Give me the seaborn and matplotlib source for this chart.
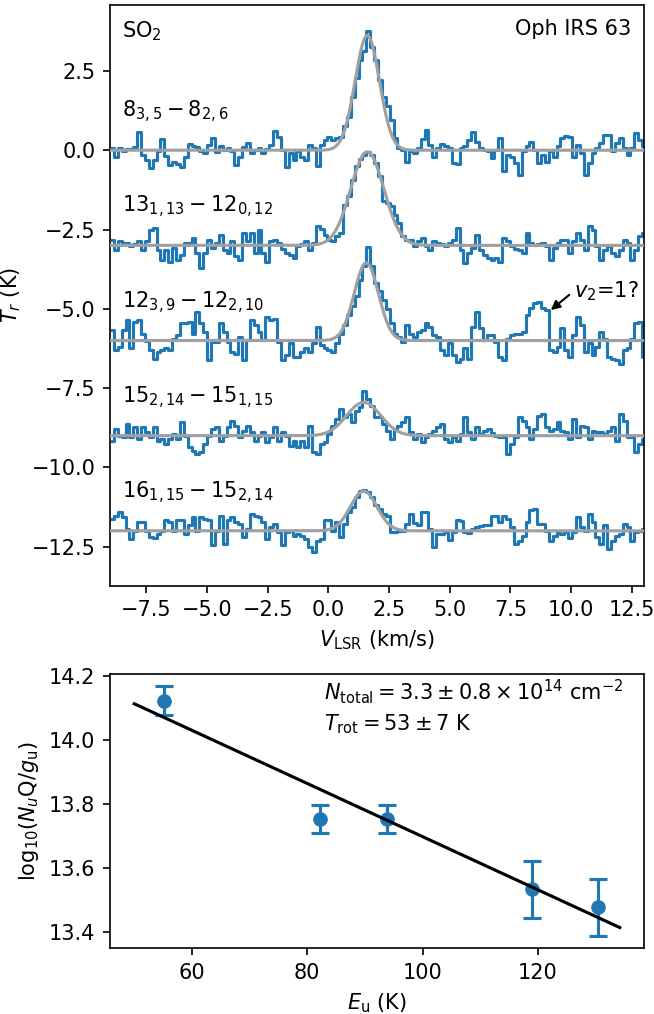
import numpy as np
import pandas as pd
import matplotlib
matplotlib.use("Agg")
import matplotlib.pyplot as plt
import seaborn as sns

# ---------------- data: spectra (channel grid) ----------------
v_start = -9.0
dv = 0.16

spec_a = [0.06, -0.20, 0.08, -0.01, 0.03, 0.03, 0.09, 0.56, -0.15, -0.31,
          -0.57, -0.31, -0.04, 0.35, -0.18, -0.46, -0.36, -0.43, -0.54, -0.20,
          0.20, 0.12, 0.09, -0.04, -0.09, 0.17, 0.40, -0.07, 0.12, 0.01,
          0.06, -0.04, -0.46, -0.20, 0.09, 0.22, -0.09, 0.01, 0.08, -0.09,
          0.03, 0.15, 0.62, 0.41, 0.01, -0.52, -0.09, -0.31, -0.01, -0.20,
          -0.31, 0.15, 0.06, -0.49, 0.17, 0.33, 0.41, 0.33, 0.38, 0.43,
          0.75, 1.06, 1.69, 2.27, 2.85, 3.12, 3.75, 3.27, 2.85, 2.20,
          1.67, 1.40, 0.96, 0.38, 0.06, 0.01, -0.36, -0.04, -0.09, 0.06,
          0.35, 0.64, 0.17, -0.20, 0.06, 0.20, 0.12, 0.06, -0.41, -0.43,
          0.06, 0.12, 0.33, 0.59, 0.27, 0.06, 0.01, -0.04, -0.25, 0.01,
          0.38, -0.64, -0.15, -0.20, -0.41, -0.78, -0.04, 0.14, 0.27, 0.01,
          -0.41, -0.15, -0.36, -0.04, -0.20, 0.12, 0.38, 0.45, 0.43, -0.20,
          0.17, -0.09, -0.78, -0.41, -0.09, 0.06, 0.22, 0.48, 0.48, -0.04,
          0.22, 0.38, 0.06, -0.15, 0.06, 0.54, 0.33, 0.12]

spec_b = [0.18, -0.14, 0.13, 0.07, 0.07, -0.03, 0.05, 0.13, -0.14, 0.13,
          0.49, 0.55, -0.14, -0.45, -0.14, -0.51, -0.08, -0.45, -0.29, 0.09,
          0.09, 0.23, -0.24, -0.72, -0.24, 0.18, -0.08, 0.09, 0.34, -0.14,
          -0.24, 0.13, -0.35, -0.45, 0.39, 0.13, 0.39, -0.24, 0.49, -0.24,
          -0.51, 0.13, 0.18, 0.07, -0.12, -0.24, -0.29, -0.40, -0.03, 0.05,
          0.13, -0.14, 0.09, 0.60, 0.52, 0.34, 0.18, 0.15, 0.28, 0.39,
          1.28, 1.55, 2.07, 2.49, 2.71, 2.86, 2.94, 2.86, 2.60, 2.18,
          1.39, 1.34, 1.23, 0.97, 0.71, 0.28, 0.18, 0.16, -0.03, 0.13,
          0.23, -0.03, -0.14, 0.13, 0.07, 0.05, -0.03, 0.07, 0.18, 0.55,
          -0.14, -0.56, -0.24, -0.08, 0.34, -0.14, -0.29, -0.40, -0.45, -0.40,
          -0.51, 0.23, 0.13, -0.03, -0.12, -0.14, -0.24, 0.39, 0.07, 0.02,
          0.05, 0.09, -0.03, -0.45, -0.08, 0.07, 0.18, 0.18, -0.24, 0.13,
          0.39, 0.18, -0.14, 0.62, 0.49, -0.03, -0.45, -0.14, -0.03, -0.24,
          -0.35, -0.14, 0.18, 0.07, -0.45, -0.14, 0.28, 0.39]

spec_c = [0.33, -0.31, -0.20, 0.33, 0.64, -0.25, 0.59, 0.64, 0.22, -0.01,
          -0.31, -0.57, -0.36, -0.31, -0.25, -0.31, 0.06, 0.17, 0.54, 0.54,
          0.59, 0.22, 0.91, 0.54, 0.27, -0.62, -0.04, -0.04, 0.54, 0.27,
          -0.04, -0.36, -0.41, 0.12, -0.62, 0.01, 0.64, 0.48, 0.27, 0.01,
          0.75, 0.64, 0.69, -0.04, -0.62, -0.46, -0.09, -0.52, -0.52, -0.36,
          -0.25, -0.36, -0.09, 0.43, -0.15, -0.25, -0.31, -0.36, -0.09, 0.22,
          0.50, 0.80, 1.10, 1.40, 1.90, 2.35, 2.95, 2.35, 1.80, 1.55,
          1.27, 1.00, 0.54, 0.22, 0.12, -0.04, 0.48, 0.22, 0.12, 0.27,
          0.33, 0.54, 0.43, 0.17, 0.12, -0.31, -0.46, -0.09, -0.46, -0.67,
          -0.57, -0.25, -0.57, 0.43, 0.91, 0.38, 0.01, 0.17, 0.17, -0.04,
          -0.52, -0.62, 0.06, 0.17, 0.22, 0.22, 0.27, 0.80, 1.01, 1.17,
          1.22, 1.01, 0.96, -0.31, -0.36, -0.20, 0.38, -0.31, -0.52, 0.17,
          0.75, 0.48, -0.36, -0.09, -0.46, -0.20, 0.27, 0.06, -0.52, -0.57,
          -0.62, -0.73, -0.31, -0.25, 0.06, 0.54, 0.59, -0.52]

spec_d = [-0.16, 0.21, 0.00, -0.05, 0.37, -0.05, 0.26, -0.11, 0.28, 0.11,
          -0.05, 0.26, -0.16, -0.11, -0.26, -0.11, 0.05, -0.11, 0.42, 0.00,
          -0.37, -0.47, -0.58, -0.53, -0.26, 0.00, 0.21, 0.26, -0.16, 0.00,
          0.26, 0.47, 0.32, -0.05, 0.16, 0.32, 0.11, -0.16, 0.00, 0.11,
          -0.21, -0.05, 0.26, -0.16, 0.11, 0.00, -0.32, -0.16, -0.37, -0.16,
          -0.37, 0.32, -0.53, -0.58, -0.26, -0.21, 0.05, 0.32, 0.53, 0.84,
          0.58, 0.68, 0.42, 0.79, 0.89, 1.42, 1.16, 0.95, 0.58, 0.58,
          0.37, 0.16, -0.11, 0.21, 0.32, 0.42, 0.58, 0.11, -0.11, 0.05,
          -0.21, -0.05, 0.05, 0.16, 0.26, 0.37, -0.11, -0.21, -0.05, -0.18,
          0.05, 0.58, 0.11, -0.11, 0.26, 0.05, 0.16, 0.21, 0.07, 0.00,
          -0.05, -0.05, -0.58, -0.26, -0.05, 0.58, 0.47, 0.26, -0.11, 0.21,
          0.63, 0.68, 0.26, 0.16, 0.21, 0.42, 0.16, 0.11, -0.11, 0.53,
          -0.05, 0.32, 0.26, -0.11, 0.16, 0.11, 0.11, 0.05, 0.16, 0.26,
          -0.16, 0.68, 0.47, -0.05, -0.05, -0.53, -0.26, -0.11]

spec_e = [0.38, 0.48, 0.59, 0.43, 0.06, -0.25, 0.01, 0.27, 0.27, 0.01,
          -0.18, -0.22, -0.09, 0.01, 0.33, 0.27, 0.01, 0.33, 0.33, -0.09,
          0.17, 0.43, 0.01, 0.43, 0.38, 0.33, -0.46, 0.01, 0.48, -0.41,
          0.33, 0.43, 0.27, 0.22, -0.20, 0.06, 0.54, 0.48, 0.43, 0.27,
          -0.25, 0.12, 0.22, -0.04, -0.46, -0.04, 0.01, -0.15, -0.09, -0.15,
          -0.25, -0.52, -0.67, -0.31, -0.25, 0.33, 0.33, 0.01, 0.27, -0.20,
          0.22, 0.59, 0.75, 1.06, 1.27, 1.29, 1.22, 1.06, 0.80, 0.69,
          0.54, 0.48, -0.04, -0.04, 0.01, 0.01, 0.22, 0.54, 0.24, 0.17,
          0.59, 0.59, 0.06, -0.52, -0.09, -0.09, -0.04, -0.28, -0.04, 0.33,
          0.31, -0.04, -0.07, 0.06, 0.12, 0.14, 0.17, 0.17, 0.48, 0.48,
          0.27, 0.48, 0.38, 0.12, -0.41, -0.31, -0.15, 0.27, 0.66, 0.69,
          0.22, 0.22, 0.01, -0.31, -0.15, -0.04, -0.09, -0.04, -0.22, -0.04,
          0.43, 0.12, 0.01, 0.54, 0.27, -0.20, -0.43, 0.17, -0.57, -0.31,
          -0.15, -0.09, 0.22, 0.12, -0.31, -0.04, 0.01, 0.06]

spectra = [spec_a, spec_b, spec_c, spec_d, spec_e]
offsets = [0.0, -3.0, -6.0, -9.0, -12.0]
transitions = [r"$8_{3,5}-8_{2,6}$", r"$13_{1,13}-12_{0,12}$",
               r"$12_{3,9}-12_{2,10}$", r"$15_{2,14}-15_{1,15}$",
               r"$16_{1,15}-15_{2,14}$"]
# Gaussian fit parameters (amplitude K, centre km/s, sigma km/s)
fit_amp = [3.62, 2.95, 2.45, 1.05, 1.25]
fit_cen = [1.60, 1.60, 1.56, 1.45, 1.45]
fit_sig = [0.50, 0.68, 0.50, 0.70, 0.55]

# ---------------- data: rotation diagram ----------------
E_up = [55.1, 82.2, 93.9, 118.9, 130.5]
logN = [14.122, 13.752, 13.753, 13.532, 13.477]
logN_err = [0.044, 0.044, 0.044, 0.089, 0.089]
fit_E = [50.0, 134.2]
fit_logN = [14.112, 13.413]

# ---------------- build tables ----------------
rows = []
for k, (s, off) in enumerate(zip(spectra, offsets)):
    vel = v_start + dv * (np.arange(len(s)) + 0.5)
    for vv, tt in zip(vel, s):
        rows.append((k, vv, tt + off))
df = pd.DataFrame(rows, columns=["line", "v", "T"])

vfine = np.linspace(-9.5, 13.5, 600)
frows = []
for k in range(5):
    g = offsets[k] + fit_amp[k] * np.exp(-(vfine - fit_cen[k]) ** 2 / (2 * fit_sig[k] ** 2))
    for vv, tt in zip(vfine, g):
        frows.append((k, vv, tt))
dfit = pd.DataFrame(frows, columns=["line", "v", "T"])

# ---------------- figure ----------------
fig = plt.figure(figsize=(4.36, 6.76), dpi=150)
ax1 = fig.add_axes([0.1682, 0.4224, 0.8165, 0.5727])
ax2 = fig.add_axes([0.1682, 0.0651, 0.8165, 0.2702])

sns.lineplot(data=df, x="v", y="T", units="line", estimator=None, color="#1f77b4",
             lw=1.5, drawstyle="steps-mid", legend=False, sort=True, ax=ax1, zorder=2)
sns.lineplot(data=dfit, x="v", y="T", units="line", estimator=None, color="#a0a0a0",
             lw=1.5, legend=False, ax=ax1, zorder=3)

for k in range(5):
    ax1.text(-8.5, offsets[k] + 1.2, transitions[k], fontsize=10, va="center", ha="left")
ax1.text(0.022, 0.975, r"SO$_2$", transform=ax1.transAxes, fontsize=10, va="top", ha="left")
ax1.text(0.977, 0.975, "Oph IRS 63", transform=ax1.transAxes, fontsize=10, va="top", ha="right")
ax1.text(10.1, -4.45, r"$v_2$=1?", fontsize=10, va="center", ha="left")
ax1.annotate("", xy=(9.16, -5.04), xytext=(9.92, -4.56),
             arrowprops=dict(arrowstyle="-|>", color="k", lw=1.0, shrinkA=0, shrinkB=0,
                             mutation_scale=9))

ax1.set_xlim(-9.0, 13.0)
ax1.set_ylim(-13.73, 4.58)
ax1.set_yticks([2.5, 0.0, -2.5, -5.0, -7.5, -10.0, -12.5])
ax1.set_xticks([-7.5, -5.0, -2.5, 0.0, 2.5, 5.0, 7.5, 10.0, 12.5])
ax1.set_xlabel(r"$V_{\rm LSR}$ (km/s)")
ax1.set_ylabel(r"$T_r$ (K)")

# rotation diagram
ax2.errorbar(E_up, logN, yerr=logN_err, fmt="none", ecolor="#1f77b4", elinewidth=1.5,
             capsize=4.5, capthick=1.5, zorder=2)
sns.scatterplot(x=E_up, y=logN, color="#1f77b4", s=42, edgecolor="#1f77b4", ax=ax2, zorder=3)
sns.lineplot(x=fit_E, y=fit_logN, color="k", lw=1.5, ax=ax2, zorder=4)
ax2.set_xticks([60, 80, 100, 120])
ax2.set_yticks([13.4, 13.6, 13.8, 14.0, 14.2])
ax2.set_xlabel(r"$E_{\rm u}$ (K)")
ax2.set_ylabel(r"log$_{10}$($N_u$Q/$g_{\rm u}$)")
ax2.text(0.40, 0.934, r"$N_{\rm total} = 3.3 \pm 0.8 \times 10^{14}$ cm$^{-2}$",
         transform=ax2.transAxes, fontsize=10, va="center", ha="left")
ax2.text(0.40, 0.817, r"$T_{\rm rot} = 53 \pm 7$ K",
         transform=ax2.transAxes, fontsize=10, va="center", ha="left")

fig.savefig("out.png", dpi=150)
